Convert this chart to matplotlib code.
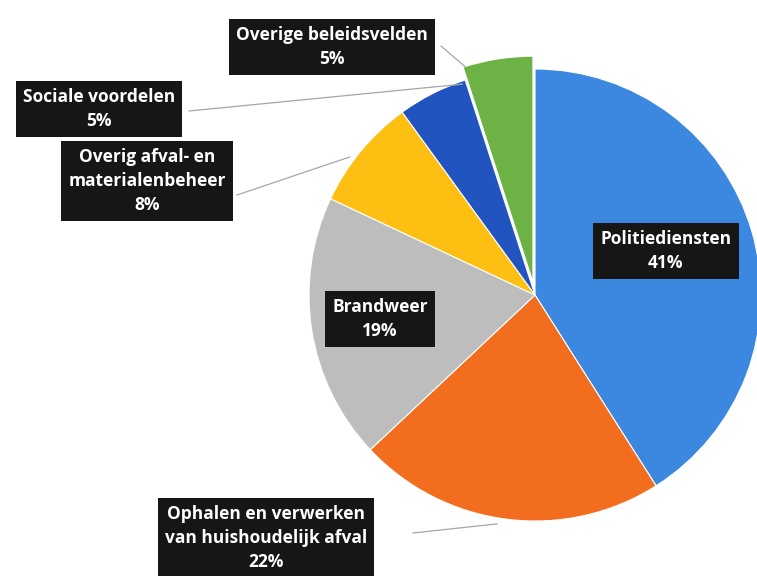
import numpy as np
import matplotlib.pyplot as plt

# data
labels = ['Politiediensten', 'Ophalen en verwerken\nvan huishoudelijk afval', 'Brandweer',
          'Overig afval- en\nmaterialenbeheer', 'Sociale voordelen', 'Overige beleidsvelden']
shares = [41, 22, 19, 8, 5, 5]
colors = ['#3c87df', '#f36d1f', '#bdbdbd', '#fcbf12', '#2254c0', '#6cb244']

W, H = 757, 576
fig = plt.figure(figsize=(W / 100, H / 100), dpi=100)
ax = fig.add_axes([0, 0, 1, 1])

cx, cy, r = 535, H - 295, 226
explode = [0, 0, 0, 0, 0, 13]  # data units (pixels)
wedges, _ = ax.pie(shares, colors=colors, explode=explode, startangle=90,
                   counterclock=False, center=(cx, cy), radius=r, frame=True,
                   wedgeprops=dict(edgecolor='white', linewidth=0.8))
ax.set_xlim(0, W)
ax.set_ylim(0, H)
ax.set_aspect('equal')
ax.axis('off')

box = dict(boxstyle='square,pad=0.4', facecolor='#161616', edgecolor='none')
txt = dict(color='white', fontsize=12.5, fontweight='bold', ha='center', va='center',
           linespacing=1.45, family=['Open Sans', 'DejaVu Sans'])

# label centre (image px), leader start (image px), leader anchor angle, anchor radius
pos = {
    0: (666, 251, None, None, None),
    1: (266, 538, (413, 533), -99.4, r + 6),
    2: (380, 319, None, None, None),
    3: (147, 181, (237, 195), 143.3, r + 5),
    4: (99, 109, (189, 111), 109.0, r - 3),
    5: (332, 47, (441, 46), 107.5, r),
}

for i, w in enumerate(wedges):
    x, y, start, a, rr = pos[i]
    ax.text(x, H - y, f'{labels[i]}\n{shares[i]}%', bbox=box, **txt, zorder=5)
    if start is not None:
        ang = np.deg2rad(a)
        wx, wy = w.center
        ex = wx + rr * np.cos(ang)
        ey = wy + rr * np.sin(ang)
        ax.plot([start[0], ex], [H - start[1], ey], color='#a6a6a6', lw=0.9, zorder=1)

fig.savefig('out.png', dpi=100, facecolor='white')
